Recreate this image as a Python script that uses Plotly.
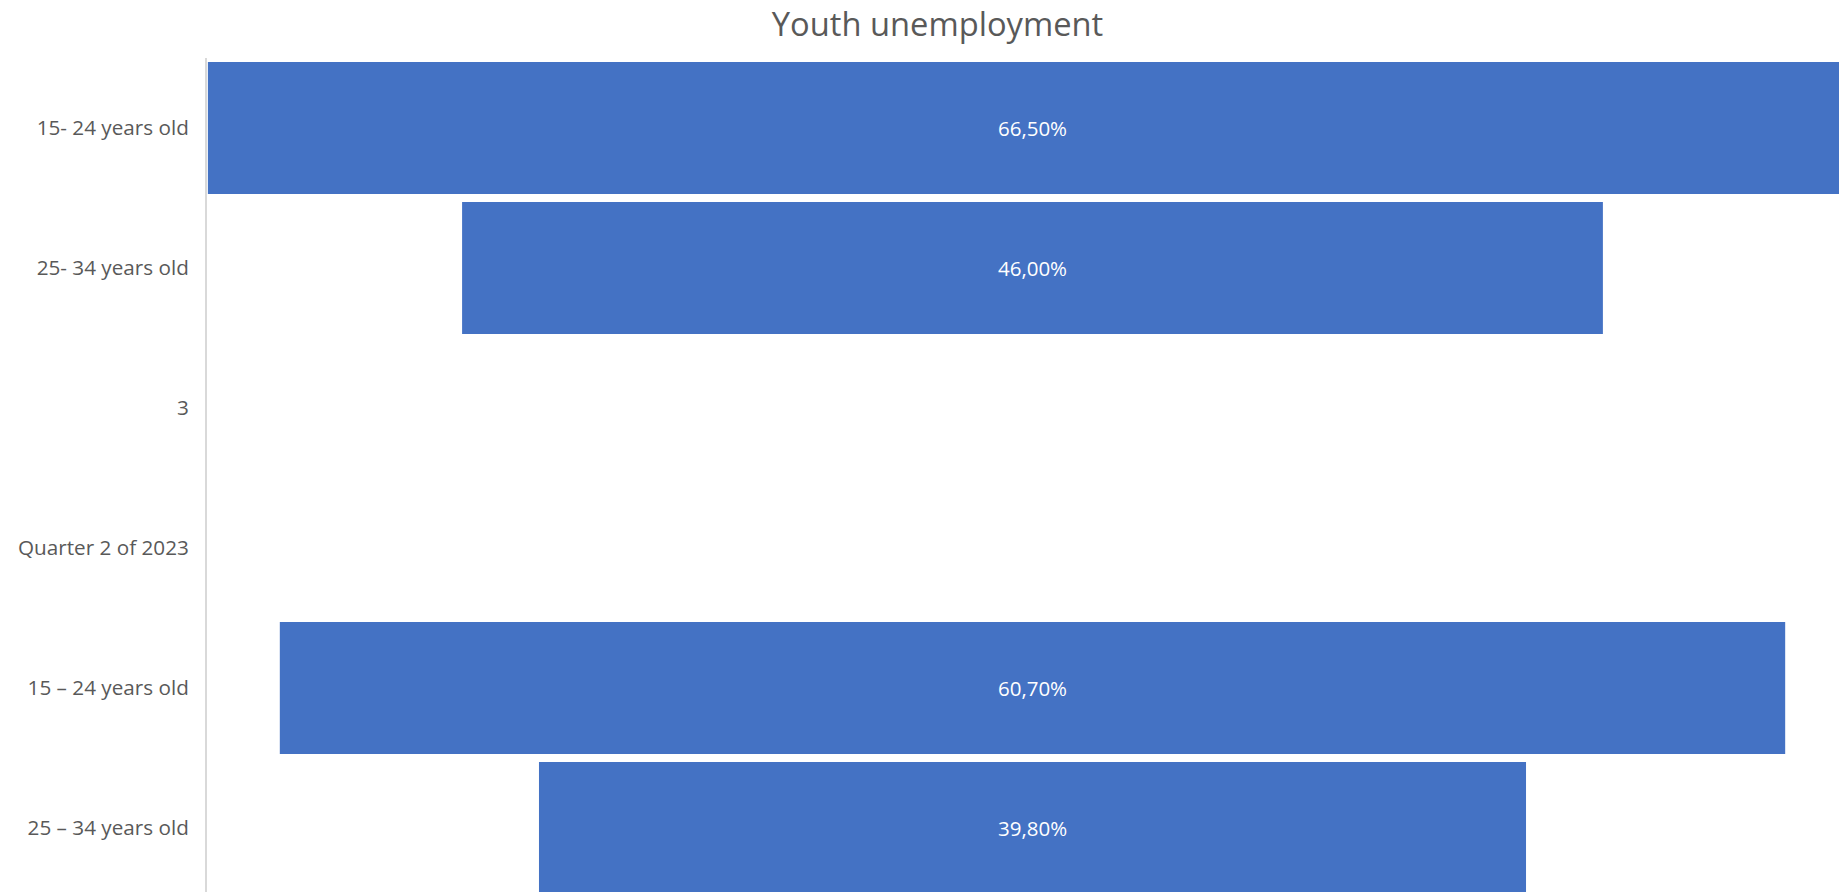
import plotly.graph_objects as go

# Funnel stages (top to bottom) and their unemployment rates in percent
categories = [
    "15- 24 years old",
    "25- 34 years old",
    "3",
    "Quarter 2 of 2023",
    "15 – 24 years old",
    "25 – 34 years old",
]
rates = [66.5, 46.0, None, None, 60.7, 39.8]

BAR_COLOR = "#4472C4"
TEXT_GREY = "#595959"
FONT = "Open Sans"


def fmt(v):
    return "" if v is None else f"{v:.2f}".replace(".", ",") + "%"


# Centered funnel bars: each bar starts at -v/2 and spans v
widths = [v if v is not None else None for v in rates]
bases = [(-v / 2) if v is not None else None for v in rates]
labels = [fmt(v) for v in rates]

fig = go.Figure(
    go.Bar(
        y=categories,
        x=widths,
        base=bases,
        orientation="h",
        width=0.943,
        marker=dict(color=BAR_COLOR, line=dict(width=0)),
        text=labels,
        textposition="inside",
        insidetextanchor="middle",
        textangle=0,
        textfont=dict(family=FONT, size=20.5, color="white"),
        cliponaxis=True,
        hoverinfo="skip",
    )
)

fig.update_layout(
    width=1839,
    height=892,
    margin=dict(l=207, r=0, t=58, b=0, pad=0),
    paper_bgcolor="white",
    plot_bgcolor="white",
    showlegend=False,
    uniformtext=dict(mode=False),
    title=dict(
        text="Youth unemployment",
        font=dict(family=FONT, size=32.7, color=TEXT_GREY),
        xref="container",
        yref="container",
        x=0.5098,
        xanchor="center",
        y=0.972,
        yanchor="middle",
    ),
    xaxis=dict(
        range=[-33.286, 32.52],
        visible=False,
        showgrid=False,
        zeroline=False,
        fixedrange=True,
    ),
    yaxis=dict(
        type="category",
        categoryorder="array",
        categoryarray=categories,
        range=[5.457, -0.5],
        showgrid=False,
        zeroline=False,
        showline=True,
        linecolor="#d9d9d9",
        linewidth=2,
        ticks="",
        ticklabelstandoff=12,
        tickfont=dict(family=FONT, size=20.7, color=TEXT_GREY),
        fixedrange=True,
    ),
)

fig.write_html("out.html")
